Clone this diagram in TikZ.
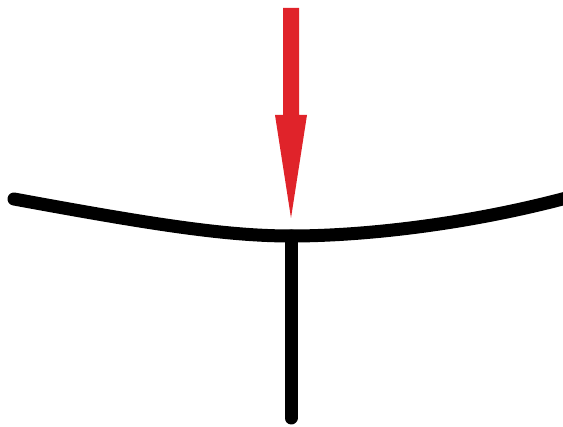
\documentclass[tikz,border=0pt]{standalone}
\usepackage{tikz}
\usetikzlibrary{calc}
\definecolor{loadred}{HTML}{E0232A}
\tikzset{
  member/.style = {draw=black, line width=13pt, line cap=round},
  load/.style = {fill=loadred, draw=none},
}

\begin{document}
\begin{tikzpicture}[x=1pt, y=-1pt]
  \useasboundingbox (0,0) rectangle (563,427);
  \coordinate (L) at (14,199);
  \coordinate (M) at (291,236);
  \coordinate (R) at (570,197);
  \coordinate (B) at (291,418);
  \coordinate (T) at (291,8);
  \coordinate (tip) at (291,218);
  % beam and column
  \draw[member] (L) .. controls (150,224) and (225,236) .. (M)
                    .. controls (365,236) and (470,224) .. (R);
  \draw[member] (M) -- (B);
  % load arrow
  \fill[load] ($(T)+(-8,0)$) -- ($(T)+(8,0)$) -- (299,115) -- (307,115)
    -- (tip) -- (275,115) -- (283,115) -- cycle;
\end{tikzpicture}
\end{document}
